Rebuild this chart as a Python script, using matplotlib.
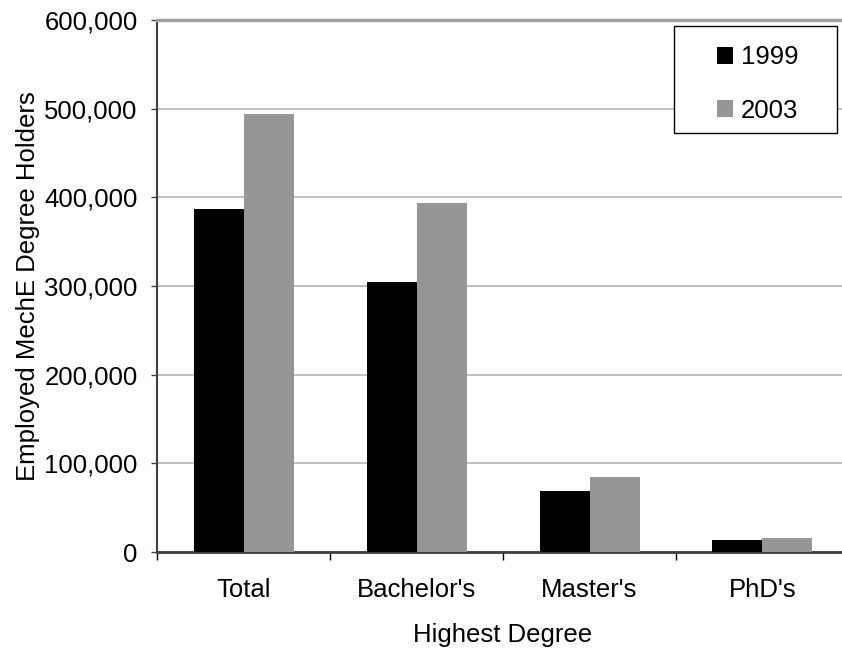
import matplotlib
matplotlib.use("Agg")
from matplotlib import pyplot as plt
import matplotlib.ticker as ticker
import matplotlib.patches as patches
import numpy as np

# Data
categories = ["Total", "Bachelor's", "Master's", "PhD's"]
vals_1999 = [387000, 305000, 69000, 13500]
vals_2003 = [493500, 394000, 84500, 15500]
years = ["1999", "2003"]

plt.rcParams['font.family'] = ['Liberation Sans', 'DejaVu Sans']
plt.rcParams['font.size'] = 18.5

W, H = 842, 649
fig = plt.figure(figsize=(W/100, H/100), dpi=100)
# axes right edge runs past the figure edge, like the reference
ax = fig.add_axes([157/W, (H-552)/H, (849-157)/W, (552-20)/H])

x = np.arange(len(categories))
w = 50/173

ax.bar(x - w/2, vals_1999, w, color='black', label=years[0], zorder=3)
ax.bar(x + w/2, vals_2003, w, color='#969696', label=years[1], zorder=3)

ax.set_xlim(-0.5, len(categories) - 0.5)
ax.set_ylim(0, 600000)

# y axis
ax.yaxis.set_major_locator(ticker.MultipleLocator(100000))
ax.yaxis.set_major_formatter(ticker.FuncFormatter(lambda v, p: f"{int(v):,}"))
ax.grid(axis='y', color='#b4b4b4', linewidth=1.2, zorder=0)
ax.tick_params(axis='y', direction='out', length=4, width=1, color='#404040', pad=10)

# x axis: tick marks between groups, labels at centers
ax.set_xticks(np.arange(-0.5, len(categories), 1.0))
ax.set_xticklabels([])
ax.set_xticks(x, minor=True)
ax.set_xticklabels(categories, minor=True)
ax.tick_params(axis='x', which='major', direction='out', length=6, width=1, color='black')
ax.tick_params(axis='x', which='minor', length=0, pad=19)

ax.spines['left'].set_color('#404040')
ax.spines['left'].set_linewidth(1.5)
ax.spines['bottom'].set_color('#404040')
ax.spines['bottom'].set_linewidth(2)
ax.spines['top'].set_color('#a0a0a0')
ax.spines['top'].set_linewidth(2.5)
ax.spines['right'].set_visible(False)

ax.set_xlabel("Highest Degree", labelpad=15)
ax.set_ylabel("Employed MechE Degree Holders", labelpad=3)

# legend box drawn separately so it can be wider than the entries
box = patches.Rectangle((674/W, 1 - 133/H), (837-674)/W, (133-26)/H,
                        transform=fig.transFigure, facecolor='white',
                        edgecolor='black', linewidth=1, zorder=5, clip_on=False)
ax.add_patch(box)
leg = ax.legend(loc='center', bbox_to_anchor=(757.5/W, 1 - 84/H),
                bbox_transform=fig.transFigure, borderaxespad=0, borderpad=0,
                frameon=False, handlelength=0.62, handleheight=0.62,
                handletextpad=0.3, labelspacing=1.14)
leg.set_zorder(6)

plt.savefig("out.png", dpi=100)
